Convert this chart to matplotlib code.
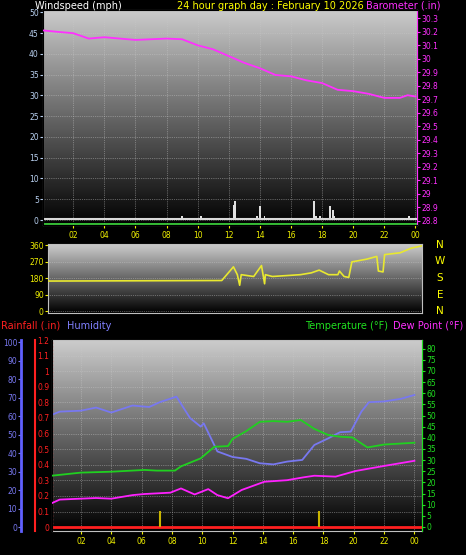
import matplotlib
matplotlib.use("Agg")
import matplotlib.pyplot as plt
import numpy as np

W, H = 466, 555
baro_t = [0.1,1,2,3,4,5,6,7,8,9,10,11,12,13,14,15,16,17,18,19,20,21,22,23,23.5,24]
baro_v = [30.21,30.20,30.19,30.15,30.16,30.15,30.14,30.145,30.15,30.145,30.10,30.07,30.02,29.97,29.93,29.88,29.87,29.84,29.82,29.77,29.76,29.74,29.71,29.71,29.73,29.72]
wind_t = [9.0,10.2,12.35,12.42,13.8,14.0,14.3,17.5,17.6,17.85,18.5,18.7,18.8,23.6]
wind_v = [1,1,3.5,4.5,1,3.3,1,4.5,1,1,3.3,2.3,1,1]
dir_t = [0,11.15,11.9,12.15,12.3,12.4,13.2,13.7,13.9,13.95,14.4,16.2,16.9,17.4,18.0,18.6,18.7,19.0,19.3,19.5,20.45,21.1,21.2,21.5,21.6,22.6,23.3,24]
dir_v = [165,168,243,200,142,200,190,250,150,200,190,200,210,225,200,200,220,190,185,270,285,300,220,215,310,320,345,358]
hum_t = [0.05,0.6,2,3,4,5.4,6.5,7.2,8.3,9.2,9.9,10.1,11,12,12.9,13.8,14.7,15.6,16.6,17.4,18.3,19.1,19.8,20.5,21,22,23.1,24]
hum_v = [60.7,62.5,63,64.7,62,65.8,65,67.6,70.6,59,54.4,56.2,41,38,37,34.6,34,35.5,36.4,44.5,48,51.4,51.7,62.5,67.6,68,69.4,71.5]
temp_t = [0.05,2,4,6.2,7,8.2,8.6,9.9,10.8,11.7,12,12.9,13.8,14.7,15.6,16.5,17.4,18.3,19.1,19.9,20.9,22,24]
temp_v = [23,24.4,24.8,25.6,25.3,25.3,27.2,30.8,36,36.3,39.5,43,47.2,47.5,47.2,48,44,41.3,40.5,40.2,35.7,37,37.8]
dew_t = [0.05,0.6,3,4,5.4,6.2,7.9,8.6,9.5,10.4,11,11.7,12.6,14.1,15.6,16.7,17.4,18.8,20.1,22,24]
dew_v = [10.6,12.3,13,12.7,14.3,14.8,15.4,17.3,14.6,17,14.3,12.9,16.6,20.3,21,22.3,23,22.6,25.1,27.4,29.7]
solar_t = [7.2, 17.7]
solar_v = [7, 7]
hours = list(range(2, 25, 2))
hour_labels = ["%02d" % (h % 24) for h in hours]

fig = plt.figure(figsize=(W/100, H/100), dpi=100, facecolor="black")

def rect(l, t, r, b):
    return [l/W, 1-b/H, (r-l)/W, (b-t)/H]

def bg(ax):
    grad = np.linspace(0.8, 0.0, 256).reshape(-1, 1)
    ax.imshow(np.dstack([grad]*3), aspect="auto", extent=(0, 1, 0, 1),
              transform=ax.transAxes, zorder=0)
    ax.set_facecolor("black")

fs = 5.5
gridkw = dict(color="#c8c8c8", ls=":", lw=0.5, alpha=0.8)
# ---- top panel
ax1 = fig.add_axes(rect(43, 10, 417, 225))
bg(ax1)
ax1.set_xlim(0.06, 24.1); ax1.set_ylim(-1.2, 50.55)
ax1.bar(wind_t, wind_v, width=0.12, color="#e0e0e0", zorder=3)
ax1.axhline(0.2, color="#d8d8d8", lw=1.5, zorder=3)
ax1.axhline(-0.9, color="#40e040", lw=1.2, zorder=3)
ax1.set_yticks(range(0, 51, 5))
ax1.set_xticks(hours); ax1.set_xticklabels(hour_labels)
ax1.grid(True, **gridkw)
ax1.tick_params(axis="y", colors="#b8d0f0", labelsize=fs, length=2, pad=1)
ax1.tick_params(axis="x", colors="#f0f000", labelsize=fs, length=2, pad=2)
for s in ax1.spines.values(): s.set_color("#c0c0c0")
ax1b = ax1.twinx()
ax1b.set_ylim(28.767, 30.362)
ax1b.plot(baro_t, baro_v, color="#ff30ff", lw=1.3, zorder=4)
bt = np.round(np.arange(28.8, 30.31, 0.1), 1)
ax1b.set_yticks(bt)
ax1b.set_yticklabels(["%g" % v for v in bt])
ax1b.tick_params(axis="y", colors="#ff30ff", labelsize=fs, length=2, pad=1)
ax1b.spines["right"].set_color("#ff30ff")
fig.text(35/W, 1-6/H, "Windspeed (mph)", color="white", fontsize=7, va="center")
fig.text(270/W, 1-6/H, "24 hour graph day : February 10 2026", color="#ffff00", fontsize=7, va="center", ha="center")
fig.text(440/W, 1-6/H, "Barometer (.in)", color="#ff30ff", fontsize=7, va="center", ha="right")

# ---- wind direction
ax2 = fig.add_axes(rect(48, 244, 422, 313))
bg(ax2)
ax2.set_xlim(0, 24); ax2.set_ylim(-10, 368)
ax2.plot(dir_t, dir_v, color="#e8e830", lw=1.2, zorder=3)
ax2.set_yticks([0, 90, 180, 270, 360]); ax2.set_xticks([])
ax2.grid(True, axis="y", **gridkw)
ax2.tick_params(axis="y", colors="#f0f000", labelsize=fs, length=2, pad=1)
for s in ax2.spines.values(): s.set_color("#c0c0c0")
for lab, y in zip(["N", "W", "S", "E", "N"], [245, 261, 278, 295, 311]):
    fig.text(440/W, 1-y/H, lab, color="#ffff00", fontsize=7.5, ha="center", va="center")
fig.text(1/W, 1-326/H, "Rainfall (.in)", color="#ff2020", fontsize=7, va="center")
fig.text(67/W, 1-326/H, "Humidity", color="#8080ff", fontsize=7, va="center")
fig.text(388/W, 1-326/H, "Temperature (°F)", color="#20e020", fontsize=7, va="center", ha="right")
fig.text(463/W, 1-326/H, "Dew Point (°F)", color="#ff30ff", fontsize=7, va="center", ha="right")

# ---- bottom panel
ax3 = fig.add_axes(rect(52, 340, 422, 531))
bg(ax3)
ax3.set_xlim(0.09, 24.5)
ax3.set_ylim(-0.025, 1.19)
ax3.axhline(0, color="#ff2020", lw=2, zorder=5)
ax3.axvline(0.09, color="#ff4040", ls=":", lw=1)
rt = np.round(np.arange(0, 1.21, 0.1), 1)
ax3.set_yticks(rt)
ax3.set_yticklabels(["%g" % v for v in rt])
ax3.set_xticks(hours); ax3.set_xticklabels(hour_labels)
ax3.grid(True, **gridkw)
ax3.tick_params(axis="y", colors="#ff2020", labelsize=fs, length=0, pad=2)
ax3.tick_params(axis="x", colors="#f0f000", labelsize=fs, length=2, pad=2)
for s in ["top", "bottom", "right", "left"]: ax3.spines[s].set_color("#c0c0c0")
# red rain axis line to the left of the labels
fig.add_artist(plt.Line2D([35/W, 35/W], [1-531/H, 1-340/H], color="#ff2020", lw=1.5))
axh = ax3.twinx()
axh.set_ylim(-2, 101.2)
axh.plot(hum_t, hum_v, color="#7878f0", lw=1.3, zorder=3)
axh.yaxis.set_ticks_position("left"); axh.yaxis.set_label_position("left")
axh.spines["left"].set_position(("outward", 22)); axh.spines["left"].set_color("#6060ff")
axh.spines["left"].set_linewidth(2)
axh.spines["right"].set_visible(False)
axh.set_yticks(range(0, 101, 10))
axh.tick_params(axis="y", colors="#7878f0", labelsize=fs, length=2, pad=1)
axt = ax3.twinx()
axt.set_ylim(-1.8, 83.9)
axt.plot(temp_t, temp_v, color="#20d020", lw=1.3, zorder=3)
axt.plot(dew_t, dew_v, color="#ff20ff", lw=1.3, zorder=3)
axt.vlines(solar_t, 0, solar_v, color="#c8b400", lw=1.5)
axt.set_yticks(range(0, 81, 5))
axt.tick_params(axis="y", colors="#20e020", labelsize=fs, length=2, pad=1)
axt.spines["right"].set_color("#20e020")
for a in (axh, axt):
    a.spines["top"].set_visible(False); a.spines["bottom"].set_visible(False)

fig.savefig("out.png", dpi=100, facecolor="black")
